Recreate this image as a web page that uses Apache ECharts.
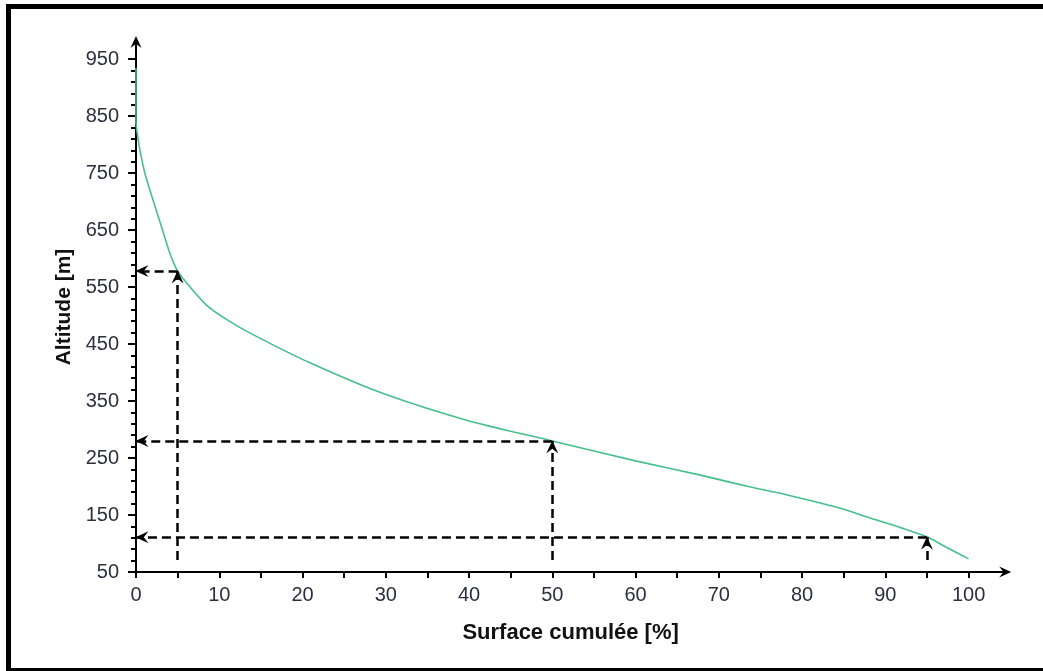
<!DOCTYPE html>
<html>
<head>
<meta charset="utf-8">
<script src="https://cdn.jsdelivr.net/npm/echarts@6/dist/echarts.min.js"></script>
<style>
  html, body { margin: 0; padding: 0; background: #fff; }
  #chart { width: 1043px; height: 671px; }
</style>
</head>
<body>
<div id="chart"></div>
<script>
// Hypsometric curve: cumulative surface (%) vs altitude (m)
const xPct = [0, 0, 0.2, 0.5, 1.1, 2.1, 3.1, 4.1, 5, 6.5, 8.5, 11, 14, 20.9, 29.7, 39.8, 50, 60, 67.8, 73.8, 78, 82.2, 85, 87.9, 92, 95.1, 97.5, 100];
const altitude = [935, 840, 815, 788, 748, 700, 654, 608, 578, 550, 518, 492, 467, 417, 363, 316, 280, 245, 220, 199, 186, 171, 160, 146, 127, 111, 92, 73];

// Reading guides (dashed arrows)
const readX = [5, 50, 95];
const readAlt = [578, 280, 111];
const guideBase = 71;

// Axis ticks / labels
const xTicks = [0, 5, 10, 15, 20, 25, 30, 35, 40, 45, 50, 55, 60, 65, 70, 75, 80, 85, 90, 95, 100];
const xLabels = [0, 10, 20, 30, 40, 50, 60, 70, 80, 90, 100];
const yLabels = [50, 150, 250, 350, 450, 550, 650, 750, 850, 950];
const yMinor = [50, 70, 90, 110, 130, 150, 170, 190, 210, 230, 250, 270, 290, 310, 330, 350, 370, 390, 410, 430, 450, 470, 490, 510, 530, 550, 570, 590, 610, 630, 650, 670, 690, 710, 730, 750, 770, 790, 810, 830, 850, 870, 890, 910, 930, 950];

const arrowPath = 'path://M5,0L10,11L5,7L0,11Z';
const txt = '#2e2e3e';
const font = '"Liberation Sans", Arial, Helvetica, sans-serif';

const curve = xPct.map((x, i) => [x, altitude[i]]);
const guides = [];
readX.forEach((x, i) => {
  guides.push([{ coord: [x, guideBase] }, { coord: [x, readAlt[i]] }]);
  guides.push([{ coord: [x, readAlt[i]] }, { coord: [0, readAlt[i]] }]);
});

const chart = echarts.init(document.getElementById('chart'), null, { renderer: 'canvas' });
chart.setOption({
  animation: false,
  backgroundColor: '#fff',
  textStyle: { fontFamily: font },
  grid: { left: 136, top: 42, right: 37.8, bottom: 99, containLabel: false },
  xAxis: {
    type: 'value', min: 0, max: 104.4,
    name: 'Surface cumulée [%]', nameLocation: 'middle', nameGap: 50,
    nameTextStyle: { fontSize: 22, fontWeight: 'bold', color: '#111', fontFamily: font },
    axisLine: { show: true, lineStyle: { color: '#000', width: 2 }, symbol: ['none', arrowPath], symbolSize: [11, 13] },
    axisTick: { show: true, customValues: xTicks, length: 6, lineStyle: { color: '#000', width: 2 } },
    axisLabel: { customValues: xLabels, fontSize: 20, color: txt, margin: 13, fontFamily: font },
    splitLine: { show: false }
  },
  yAxis: [{
    type: 'value', min: 50, max: 980,
    name: 'Altitude [m]', nameLocation: 'middle', nameGap: 61, nameRotate: 90,
    nameTextStyle: { fontSize: 21, fontWeight: 'bold', color: '#111', fontFamily: font },
    axisLine: { show: true, lineStyle: { color: '#000', width: 2 }, symbol: ['none', arrowPath], symbolSize: [11, 13] },
    axisTick: { show: true, customValues: yLabels, length: 8, lineStyle: { color: '#000', width: 2 } },
    axisLabel: { customValues: yLabels, fontSize: 20, color: txt, margin: 17, fontFamily: font },
    splitLine: { show: false }
  }, {
    type: 'value', min: 50, max: 980, position: 'left',
    axisLine: { show: false },
    axisTick: { show: true, customValues: yMinor, length: 5, lineStyle: { color: '#000', width: 2 } },
    axisLabel: { show: false },
    splitLine: { show: false }
  }],
  series: [{
    type: 'line',
    data: curve,
    xAxisIndex: 0, yAxisIndex: 0,
    symbol: 'none',
    smooth: 0.25,
    lineStyle: { color: '#45c08a', width: 1.6 },
    z: 3,
    markLine: {
      silent: true,
      symbol: ['none', arrowPath],
      symbolSize: [12, 13],
      symbolOffset: [[0, 0], [0, 6]],
      label: { show: false },
      emphasis: { disabled: true },
      lineStyle: { color: '#000', width: 2.5, type: [9, 5] },
      data: guides
    }
  }],
  graphic: [
    { type: 'rect', shape: { x: 6, y: 4, width: 1037, height: 5 }, style: { fill: '#000' } },
    { type: 'rect', shape: { x: 6, y: 4, width: 5, height: 667 }, style: { fill: '#000' } },
    { type: 'rect', shape: { x: 6, y: 668, width: 1037, height: 3 }, style: { fill: '#000' } }
  ]
});
</script>
</body>
</html>
